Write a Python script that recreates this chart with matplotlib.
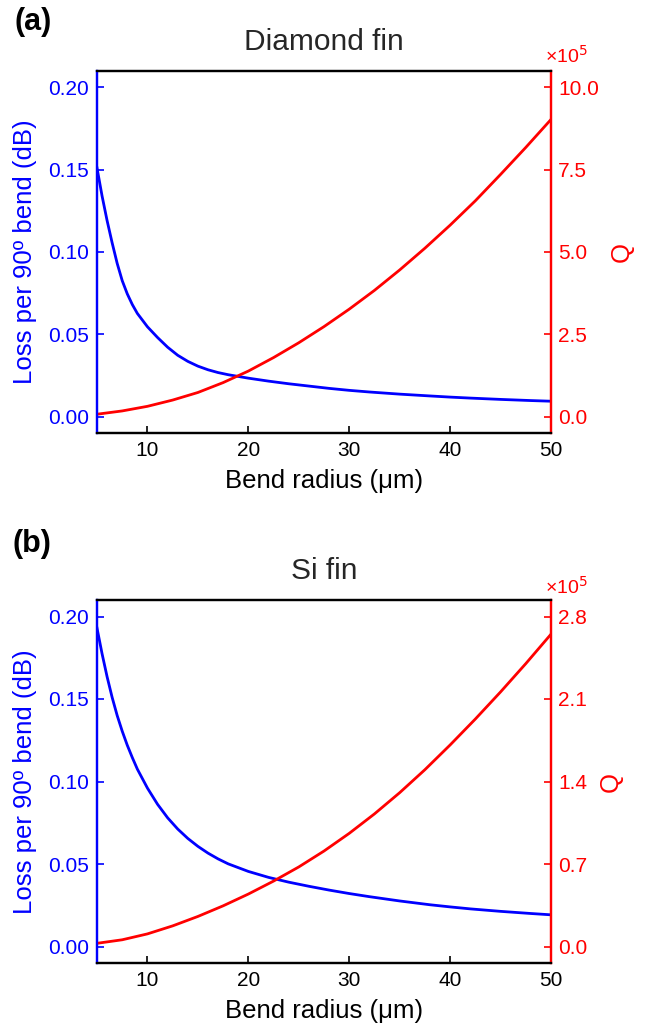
import matplotlib
matplotlib.use("Agg")
import matplotlib.pyplot as plt
from matplotlib.ticker import FormatStrFormatter

plt.rcParams['font.family'] = ['Liberation Sans', 'DejaVu Sans']

# ---- data ----
r_loss = [5.0, 5.5, 6.0, 6.5, 7.0, 7.5, 8.0, 8.5, 9.0, 10, 11, 12, 13, 14, 15, 16, 17,
          18, 20, 22, 24, 26, 28, 30, 32, 35, 38, 40, 42, 45, 48, 50]
diamond_loss = [0.151, 0.134, 0.119, 0.1055, 0.093, 0.0825, 0.0745, 0.068, 0.0626,
                0.0545, 0.048, 0.0421, 0.0372, 0.0335, 0.0306, 0.0284, 0.0267, 0.0254,
                0.0233, 0.0215, 0.0199, 0.0185, 0.0171, 0.0159, 0.0149, 0.0136, 0.0125,
                0.0118, 0.0112, 0.0104, 0.0097, 0.0093]
si_loss = [0.193, 0.1775, 0.1635, 0.151, 0.140, 0.1305, 0.122, 0.1145, 0.1075, 0.096,
           0.0862, 0.078, 0.0712, 0.0655, 0.0607, 0.0566, 0.0531, 0.0501, 0.0455, 0.0419,
           0.039, 0.0365, 0.0342, 0.0321, 0.0302, 0.0276, 0.0253, 0.024, 0.0228, 0.0213,
           0.020, 0.0192]

r_q = [5, 7.5, 10, 12.5, 15, 17.5, 20, 22.5, 25, 27.5, 30, 32.5, 35, 37.5, 40, 42.5,
       45, 47.5, 50]
diamond_q = [0.07, 0.17, 0.31, 0.50, 0.73, 1.03, 1.38, 1.79, 2.24, 2.73, 3.26, 3.83,
             4.45, 5.11, 5.81, 6.55, 7.35, 8.17, 9.02]          # x 1e5
si_q = [0.027, 0.057, 0.107, 0.175, 0.255, 0.345, 0.445, 0.555, 0.675, 0.81, 0.96,
        1.125, 1.305, 1.50, 1.71, 1.93, 2.16, 2.40, 2.65]        # x 1e5

panels = [
    dict(tag='(a)', title='Diamond fin', loss=diamond_loss, q=diamond_q,
         qticks=[0.0, 2.5, 5.0, 7.5, 10.0], qlim=(-0.5, 10.5)),
    dict(tag='(b)', title='Si fin', loss=si_loss, q=si_q,
         qticks=[0.0, 0.7, 1.4, 2.1, 2.8], qlim=(-0.14, 2.94)),
]
loss_ticks = [0.00, 0.05, 0.10, 0.15, 0.20]
x_ticks = [10, 20, 30, 40, 50]

BLUE = '#0000ff'
RED = '#ff0000'
W, H = 657, 1034
fig = plt.figure(figsize=(W / 100, H / 100), dpi=100)

ax_boxes = [(97, 70.7, 551, 433), (97, 600, 551, 963)]
tag_pos = [(15, 30), (13, 552)]
x10_pos = [(545, 63), (545, 594)]

for p, (l, t, rgt, b), tp, xp in zip(panels, ax_boxes, tag_pos, x10_pos):
    ax = fig.add_axes([l / W, 1 - b / H, (rgt - l) / W, (b - t) / H])
    ax2 = ax.twinx()
    ax.plot(r_loss, p['loss'], color=BLUE, lw=2.0)
    ax2.plot(r_q, p['q'], color=RED, lw=2.0)

    ax.set_xlim(5, 50)
    ax.set_ylim(-0.01, 0.21)
    ax2.set_ylim(*p['qlim'])
    ax.set_xticks(x_ticks)
    ax.set_yticks(loss_ticks)
    ax2.set_yticks(p['qticks'])
    ax.yaxis.set_major_formatter(FormatStrFormatter('%.2f'))
    ax2.yaxis.set_major_formatter(FormatStrFormatter('%.1f'))

    for a in (ax, ax2):
        for s in a.spines.values():
            s.set_linewidth(1.6)
    ax.spines['left'].set_color(BLUE)
    ax2.spines['left'].set_color(BLUE)
    ax.spines['right'].set_color(RED)
    ax2.spines['right'].set_color(RED)

    ax.tick_params(axis='x', direction='in', length=5, width=1.2, labelsize=15,
                   pad=6, colors='black')
    ax.tick_params(axis='y', direction='in', length=5, width=1.2, labelsize=15,
                   pad=5.5, colors=BLUE)
    ax2.tick_params(axis='y', direction='in', length=5, width=1.2, labelsize=15,
                    pad=5, colors=RED)

    ax.set_xlabel('Bend radius (μm)', fontsize=18.5, labelpad=6)
    ax.set_ylabel('Loss per 90º bend (dB)', fontsize=18.5, color=BLUE, labelpad=8)
    ax2.set_ylabel('Q', fontsize=18.5, color=RED, rotation=90, labelpad=8,
                   va='top')
    ax.set_title(p['title'], fontsize=21.5, color='#262626', pad=15)

    fig.text(tp[0] / W, 1 - tp[1] / H, p['tag'], fontsize=22, fontweight='bold',
             va='baseline', ha='left')
    fig.text(xp[0] / W, 1 - xp[1] / H, '×10$^5$', fontsize=14, color=RED,
             va='baseline', ha='left')

fig.savefig('out.png', dpi=100)
